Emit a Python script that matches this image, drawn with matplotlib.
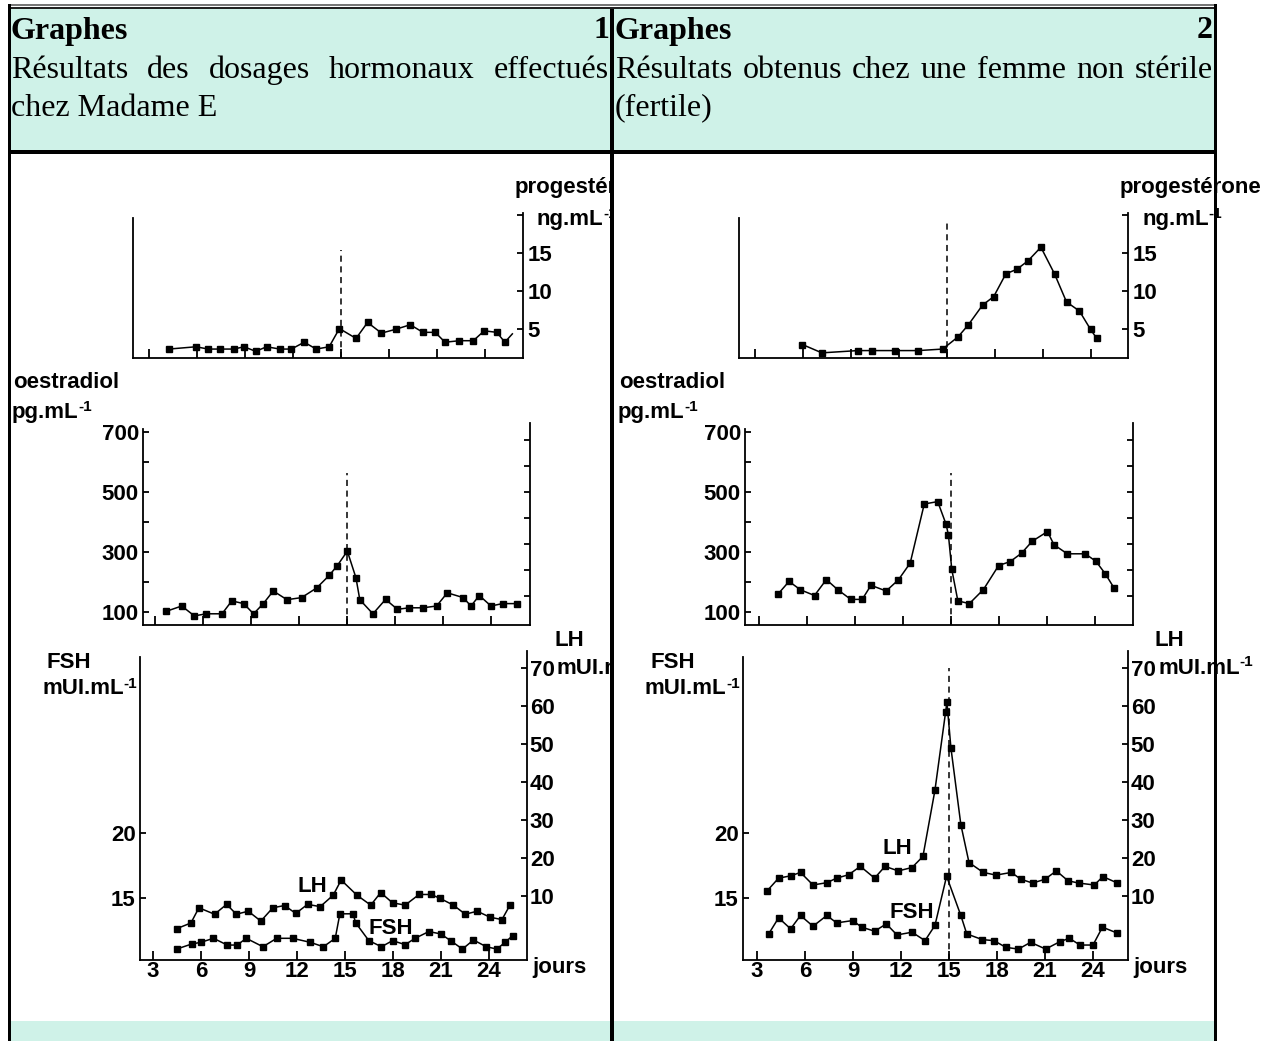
import matplotlib
matplotlib.use('Agg')
import matplotlib.pyplot as plt
from matplotlib.patches import Rectangle
from matplotlib.transforms import Bbox, TransformedBbox

W, H = 1276, 1041
MINT = '#cff2e8'
CHART_FONT = ['Liberation Sans', 'DejaVu Sans']
HEAD_FONT = ['Liberation Serif', 'DejaVu Serif']
PX_DAY = 16
DAY_TICKS = [3, 6, 9, 12, 15, 18, 21, 24]
OVULATION = 15

# --- Graphes 1 : Madame E ---
p1_days = [4.24, 5.94, 6.7, 7.45, 8.3, 8.94, 9.67, 10.35, 11.18, 11.9, 12.7, 13.45, 14.26, 14.9,
           15.94, 16.66, 17.53, 18.42, 19.33, 20.12, 20.89, 21.5, 22.4, 23.27, 23.95, 24.74, 25.24, 25.71]
p1_vals = [2.4, 2.7, 2.4, 2.4, 2.4, 2.7, 2.1, 2.7, 2.4, 2.4, 3.3, 2.4, 2.7, 5.1,
           3.8, 5.9, 4.5, 5.0, 5.6, 4.6, 4.6, 3.3, 3.5, 3.5, 4.8, 4.6, 3.3, 4.4]

e1_days = [3.69, 4.67, 5.46, 6.2, 7.19, 7.8, 8.54, 9.16, 9.77, 10.39, 11.25, 12.16, 13.1, 13.89, 14.4, 15.02,
           15.56, 15.8, 16.62, 17.41, 18.15, 18.89, 19.75, 20.6, 21.27, 22.26, 22.75, 23.27, 24.0, 24.72, 25.6]
e1_vals = [102, 120, 87, 94, 94, 137, 128, 94, 128, 170, 141, 148, 180, 222, 255, 303,
           214, 141, 94, 142, 109, 114, 114, 120, 164, 148, 120, 155, 120, 128, 128]

lh1_days = [4.48, 5.37, 5.87, 6.85, 7.6, 8.21, 8.95, 9.74, 10.49, 11.23, 11.92, 12.66, 13.45, 14.26, 14.76,
            15.75, 16.61, 17.23, 17.97, 18.76, 19.63, 20.37, 20.93, 21.77, 22.52, 23.26, 24.07, 24.81, 25.31]
lh1_vals = [1.4, 2.9, 6.9, 5.2, 7.8, 5.2, 6.0, 3.4, 6.9, 7.5, 5.4, 7.8, 7.2, 10.2, 14.2,
            10.2, 7.6, 10.9, 8.2, 7.6, 10.4, 10.4, 9.4, 7.6, 5.2, 6.0, 4.4, 3.8, 7.6]

fsh1_days = [4.48, 5.42, 5.99, 6.78, 7.64, 8.26, 8.83, 9.87, 10.73, 11.72, 12.83, 13.65, 14.39, 14.68, 15.5,
             15.67, 16.49, 17.28, 17.97, 18.76, 19.38, 20.24, 20.98, 21.6, 22.34, 23.03, 23.83, 24.49, 25.01, 25.48]
fsh1_vals = [11.06, 11.45, 11.58, 11.89, 11.37, 11.37, 11.89, 11.24, 11.89, 11.89, 11.58, 11.24, 11.89, 13.78, 13.78,
             13.08, 11.71, 11.24, 11.71, 11.4, 11.89, 12.41, 12.23, 11.71, 11.06, 11.76, 11.24, 11.06, 11.58, 12.1]

# --- Graphes 2 : femme fertile ---
p2_days = [5.99, 7.21, 9.46, 10.32, 11.81, 13.24, 14.76, 15.72, 16.37, 17.26,
           17.95, 18.71, 19.4, 20.09, 20.9, 21.75, 22.5, 23.31, 24.0, 24.39]
p2_vals = [3.0, 1.9, 2.2, 2.2, 2.2, 2.2, 2.4, 4.0, 5.6, 8.2,
           9.3, 12.3, 12.9, 14.0, 15.8, 12.3, 8.6, 7.4, 5.0, 3.8]

e2_days = [4.24, 4.91, 5.62, 6.5, 7.24, 7.96, 8.77, 9.48, 10.03, 10.98, 11.74, 12.48, 13.36, 14.2, 14.72, 14.87,
           15.08, 15.46, 16.18, 17.06, 18.01, 18.73, 19.44, 20.11, 21.06, 21.47, 22.3, 23.42, 24.09, 24.68, 25.21]
e2_vals = [161, 202, 174, 155, 208, 174, 142, 142, 189, 170, 207, 263, 460, 468, 393, 357,
           242, 137, 128, 175, 255, 268, 296, 336, 368, 324, 294, 294, 269, 227, 181]

lh2_days = [3.62, 4.35, 5.1, 5.72, 6.5, 7.36, 7.98, 8.73, 9.46, 10.35, 11.0, 11.83, 12.69, 13.37, 14.12, 14.79,
            14.87, 15.12, 15.74, 16.25, 17.14, 17.94, 18.89, 19.5, 20.23, 20.99, 21.71, 22.44, 23.11, 24.08, 24.62, 25.48]
lh2_vals = [11.3, 14.7, 15.3, 16.2, 12.9, 13.5, 14.7, 15.6, 17.8, 14.7, 17.8, 16.6, 17.5, 20.4, 37.8, 58.5,
            61.0, 49.0, 28.8, 18.8, 16.2, 15.5, 16.2, 14.4, 13.4, 14.4, 16.6, 14.0, 13.4, 12.9, 15.1, 13.5]

fsh2_days = [3.73, 4.35, 5.1, 5.72, 6.5, 7.36, 7.98, 8.98, 9.54, 10.35, 11.08, 11.75, 12.69, 13.5, 14.12,
             14.85, 15.74, 16.11, 17.08, 17.81, 18.56, 19.34, 20.1, 21.04, 21.93, 22.52, 23.19, 24.0, 24.59, 25.48]
fsh2_vals = [12.23, 13.47, 12.62, 13.65, 12.82, 13.65, 13.08, 13.26, 12.75, 12.44, 13.0, 12.15, 12.36, 11.71, 12.88,
             16.68, 13.65, 12.23, 11.79, 11.71, 11.19, 11.06, 11.58, 11.06, 11.63, 11.89, 11.37, 11.37, 12.75, 12.31]

plt.rcParams['font.family'] = CHART_FONT
plt.rcParams['font.weight'] = 'bold'

fig = plt.figure(figsize=(W / 100, H / 100), dpi=100)
fig.patch.set_facecolor('white')
renderer = fig.canvas.get_renderer()


def fx(x):
    return x / W


def fy(y):
    return 1 - y / H


def box(x0, y0, x1, y1, color, z):
    fig.add_artist(Rectangle((fx(x0), fy(y1)), fx(x1) - fx(x0), fy(y0) - fy(y1),
                             transform=fig.transFigure, facecolor=color,
                             edgecolor='none', zorder=z))


left_clip = TransformedBbox(Bbox([[fx(10.5), 0], [fx(610), 1]]), fig.transFigure)


def label(x, y, s, size=16, ha='left', sup=False, clip=None):
    t = fig.text(fx(x), fy(y), s, fontsize=size, ha=ha, va='center',
                 fontweight='bold', zorder=5)
    if clip is not None:
        t.set_clip_box(clip)
    if sup:
        a = fig.text(0, 0, '-1', fontsize=11, fontweight='bold', zorder=5, va='center')
        bb = t.get_window_extent(renderer)
        a.set_position((fx(bb.x1), (bb.y1 - 5) / H))
        if clip is not None:
            a.set_clip_box(clip)
    return t


def panel(x0, x1, day3, ytop, ybot, ref_px, ref_val, ppu, left_top, right_top):
    ax = fig.add_axes([fx(x0), fy(ybot), fx(x1) - fx(x0), (ybot - ytop) / H])
    ax.set_xlim(3 + (x0 - day3) / PX_DAY, 3 + (x1 - day3) / PX_DAY)
    lo = ref_val - (ybot - ref_px) / ppu
    ax.set_ylim(lo, ref_val + (ref_px - ytop) / ppu)
    ax.patch.set_alpha(0)
    ax.spines['top'].set_visible(False)
    for s in ax.spines.values():
        s.set_linewidth(1.3)
    ax.spines['left'].set_bounds(lo, ref_val + (ref_px - left_top) / ppu)
    ax.spines['right'].set_bounds(lo, ref_val + (ref_px - right_top) / ppu)
    ax.set_xticks(DAY_TICKS)
    ax.tick_params(axis='x', direction='in', length=6.5, width=1.3, labelbottom=False)
    ax.tick_params(axis='y', direction='in', length=4.5, width=1.3, labelsize=16, pad=3)
    return ax


def series(ax, days, vals, last_marker=True):
    n = len(days) if last_marker else len(days) - 1
    ax.plot(days, vals, '-', color='black', lw=1.1, marker='s', ms=4.5,
            markevery=list(range(n)), clip_on=False, zorder=3)


def ovulation(ax, top):
    ax.plot([OVULATION, OVULATION], [ax.get_ylim()[0], top], color='black',
            lw=1.1, dashes=(4, 3), zorder=2)


# ---------- backgrounds & table borders ----------
box(10.5, 8.5, 610, 150, MINT, 0)
box(614, 8.5, 1214, 150, MINT, 0)
box(10.5, 1021, 610, 1041, MINT, 0)
box(614, 1021, 1214, 1041, MINT, 0)
box(7.5, 4, 1217, 5.5, '#777777', 20)
box(7.5, 6.5, 1217, 8.5, '#222222', 20)
box(7.5, 4, 10.5, 1041, 'black', 20)
box(610, 8.5, 614, 1041, 'black', 20)
box(1214, 4, 1217, 1041, 'black', 20)
box(7.5, 150, 1217, 154, 'black', 20)

# ---------- header text ----------
HS = 23


def justify(words, x0, x1, y):
    arts = [fig.text(0, fy(y), w, fontsize=HS, family=HEAD_FONT, fontweight='normal',
                     va='center', ha='left') for w in words]
    widths = [a.get_window_extent(renderer).width for a in arts]
    gap = (x1 - x0 - sum(widths)) / (len(words) - 1)
    x = x0
    for a, w in zip(arts, widths):
        a.set_x(fx(x))
        x += w + gap


for xl, xr, num, line2, line3 in [
        (11, 609, '1', 'Résultats des dosages hormonaux effectués', 'chez Madame E'),
        (615, 1213, '2', 'Résultats obtenus chez une femme non stérile', '(fertile)')]:
    fig.text(fx(xl), fy(31), 'Graphes', fontsize=HS, family=HEAD_FONT, fontweight='bold', va='center')
    fig.text(fx(xr), fy(31), num, fontsize=HS, family=HEAD_FONT, fontweight='bold', va='center', ha='right')
    justify(line2.split(), xl, xr, 70)
    fig.text(fx(xl), fy(108), line3, fontsize=HS, family=HEAD_FONT, fontweight='normal', va='center')

# ---------- progesterone ----------
for x0, x1, day3, data, dtop, clip, last in [
        (133, 523, 149, (p1_days, p1_vals), 15.4, left_clip, False),
        (739, 1128, 754.5, (p2_days, p2_vals), 19.0, None, True)]:
    ax = panel(x0, x1, day3, 213, 358, 329.3, 5, 7.6, 218, 213)
    ax.yaxis.tick_right()
    ax.set_yticks([5, 10, 15, 20])
    ax.set_yticklabels(['5', '10', '15', ''])
    series(ax, *data, last_marker=last)
    ovulation(ax, dtop)
    label(x1 - 8, 188, 'progestérone', clip=clip)
    label(x1 + 14, 220, 'ng.mL', sup=True, clip=clip)

# ---------- oestradiol ----------
for x0, x1, day3, data, tx in [(143, 530, 155, (e1_days, e1_vals), 12),
                               (745, 1133, 758.5, (e2_days, e2_vals), 618)]:
    ax = panel(x0, x1, day3, 423, 625, 612, 100, 0.3, 429, 423)
    ax.set_yticks([100, 300, 500, 700])
    ax.set_yticks([200, 400, 600], minor=True)
    ax.tick_params(axis='y', which='minor', direction='in', length=4.5, width=1.3)
    series(ax, *data)
    ovulation(ax, 563)
    ax_r = ax.twinx()
    ax_r.set_ylim(ax.get_ylim())
    for s in ax_r.spines.values():
        s.set_visible(False)
    ax_r.set_yticks([155, 241, 327, 415, 501, 587, 672])
    ax_r.tick_params(axis='y', direction='in', length=4.5, width=1.3, labelright=False)
    label(tx + 1, 383, 'oestradiol')
    label(tx, 413, 'pg.mL', sup=True)

# ---------- FSH / LH ----------
for x0, x1, day3, fsh, lh, tx, names, dashed in [
        (140, 527, 153, (fsh1_days, fsh1_vals), (lh1_days, lh1_vals), 0,
         ((312, 886), (391, 928)), False),
        (743, 1128, 757, (fsh2_days, fsh2_vals), (lh2_days, lh2_vals), 603,
         ((897, 849), (912, 913)), True)]:
    clip = left_clip if tx == 0 else None
    ax = panel(x0, x1, day3, 651, 960, 898, 15, 12.96, 657, 651)
    ax.spines['right'].set_visible(False)
    ax.set_yticks([15, 20])
    ax.tick_params(axis='x', labelbottom=True, labelsize=16, pad=1)
    ax.set_xticklabels([str(d) for d in DAY_TICKS])
    ax2 = ax.twinx()
    ax2.set_ylim(10 - (960 - 896) / 3.8, 10 + (896 - 651) / 3.8)
    for k in ('left', 'top', 'bottom'):
        ax2.spines[k].set_visible(False)
    ax2.spines['right'].set_linewidth(1.3)
    ax2.set_yticks([10, 20, 30, 40, 50, 60, 70])
    ax2.tick_params(axis='y', direction='in', length=4.5, width=1.3, labelsize=16, pad=2)
    series(ax, *fsh)
    series(ax2, *lh)
    if dashed:
        ovulation(ax2, 70)
    label(names[0][0], names[0][1], 'LH', ha='center')
    label(names[1][0], names[1][1], 'FSH', ha='center')
    label(x1 + 27, 640, 'LH', clip=clip)
    label(x1 + 30, 668, 'mUI.mL', sup=True, clip=clip)
    label(tx + 47, 663, 'FSH')
    label(tx + 42, 689, 'mUI.mL', sup=True)
    label(x1 + 5, 967, 'jours', clip=clip)

fig.savefig('out.png', dpi=100)
